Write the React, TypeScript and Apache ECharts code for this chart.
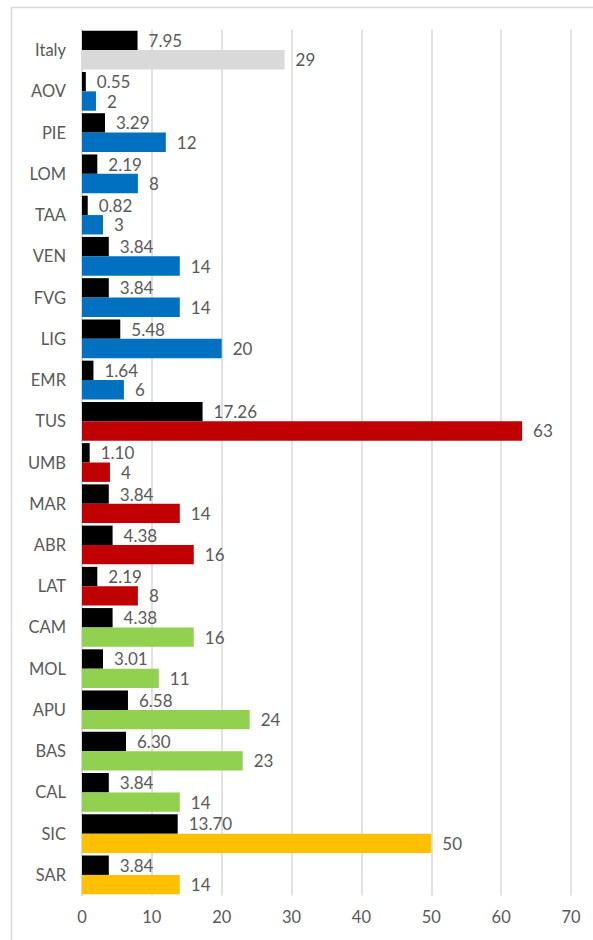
import React, { useEffect, useRef } from "react";
import * as echarts from "echarts";

const categories = ["Italy", "AOV", "PIE", "LOM", "TAA", "VEN", "FVG", "LIG", "EMR", "TUS", "UMB", "MAR", "ABR", "LAT", "CAM", "MOL", "APU", "BAS", "CAL", "SIC", "SAR"];
const rateValues = [7.95, 0.55, 3.29, 2.19, 0.82, 3.84, 3.84, 5.48, 1.64, 17.26, 1.10, 3.84, 4.38, 2.19, 4.38, 3.01, 6.58, 6.30, 3.84, 13.70, 3.84];
const countValues = [29, 2, 12, 8, 3, 14, 14, 20, 6, 63, 4, 14, 16, 8, 16, 11, 24, 23, 14, 50, 14];
const areaGroups = ["italy", "north", "north", "north", "north", "north", "north", "north", "north", "center", "center", "center", "center", "center", "south", "south", "south", "south", "south", "islands", "islands"];
const xTicks = [0, 10, 20, 30, 40, 50, 60, 70];

const groupColors: Record<string, string> = {
  italy: "#D9D9D9",
  north: "#0070C0",
  center: "#C00000",
  south: "#92D050",
  islands: "#FFC000",
};

const FONT = "Lato, 'Open Sans', sans-serif";
const TEXT = "#595959";

export default function App() {
  const ref = useRef<HTMLDivElement>(null);
  useEffect(() => {
    document.body.style.margin = "0";
    const chart = echarts.init(ref.current!, null, { renderer: "svg" });
    chart.setOption({
      animation: false,
      textStyle: { fontFamily: FONT },
      graphic: [
        {
          type: "rect",
          shape: { x: 11.5, y: 7.5, width: 700, height: 1000 },
          style: { fill: "none", stroke: "#D9D9D9", lineWidth: 1.5 },
          silent: true,
        },
      ],
      grid: { left: 82, right: 22, top: 29.5, bottom: 44.5, containLabel: false },
      xAxis: {
        type: "value",
        min: xTicks[0],
        max: xTicks[xTicks.length - 1],
        interval: 10,
        axisLine: { show: false },
        axisTick: { show: false },
        axisLabel: { color: TEXT, fontSize: 16.5, fontFamily: FONT, margin: 13 },
        splitLine: { show: true, lineStyle: { color: "#D9D9D9", width: 1.5 } },
      },
      yAxis: {
        type: "category",
        data: categories,
        inverse: true,
        axisLine: { show: true, lineStyle: { color: "#D9D9D9", width: 1.5 } },
        axisTick: { show: false },
        axisLabel: { color: TEXT, fontSize: 16.5, fontFamily: FONT, margin: 16 },
      },
      series: [
        {
          type: "bar",
          name: "rate",
          data: rateValues,
          barGap: "0%",
          barCategoryGap: "6%",
          itemStyle: { color: "#000000" },
          label: {
            show: true,
            position: "right",
            distance: 11,
            color: TEXT,
            fontSize: 17,
            fontFamily: FONT,
            formatter: (p: any) => Number(p.value).toFixed(2),
          },
        },
        {
          type: "bar",
          name: "count",
          data: countValues.map((v, i) => ({ value: v, itemStyle: { color: groupColors[areaGroups[i]] } })),
          barGap: "0%",
          barCategoryGap: "6%",
          label: {
            show: true,
            position: "right",
            distance: 11,
            color: TEXT,
            fontSize: 17,
            fontFamily: FONT,
          },
        },
      ],
    });
    return () => chart.dispose();
  }, []);
  return <div ref={ref} style={{ width: 593, height: 940 }} />;
}
